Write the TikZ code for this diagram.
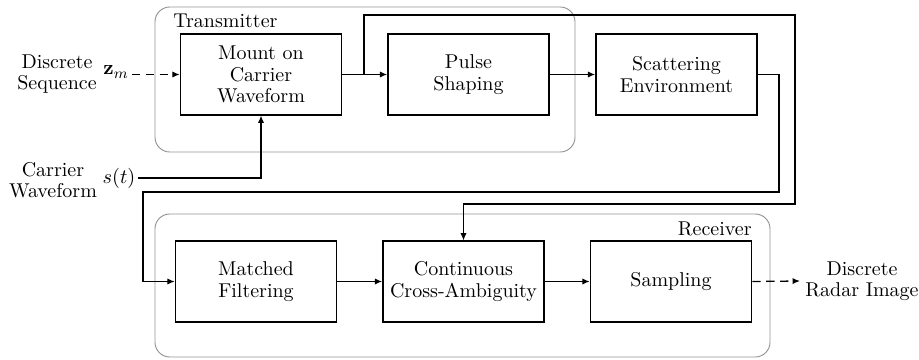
\documentclass[tikz,border=0pt]{standalone}
\usetikzlibrary{arrows.meta}
\begin{document}
\begin{tikzpicture}[x=0.54pt,y=-0.54pt,
  every node/.style={font=\fontsize{10.8}{11.6}\selectfont},
  blockbox/.style={draw,line width=0.8pt,minimum width=87pt,minimum height=43.5pt,align=center,inner sep=0pt},
  groupbox/.style={draw=gray!85,line width=0.5pt,rounded corners=8pt},
  conn/.style={line width=0.7pt,-{Latex[length=4pt,width=3.4pt]}},
  dconn/.style={conn,dash pattern=on 4.5pt off 3pt},
  lbl/.style={align=center,inner sep=0pt}]
\useasboundingbox (0,0) rectangle (919,360);
% containers
\draw[groupbox] (155,7) rectangle (575,152);
\draw[groupbox] (155,214) rectangle (770,357);
\node[anchor=west,inner sep=0pt] (tx) at (173,21) {Transmitter};
\node[anchor=east,inner sep=0pt] (rx) at (752,229) {Receiver};
% blocks
\node[blockbox] (mount) at (261,74.5) {Mount on\\Carrier\\Waveform};
\node[blockbox] (pulse) at (468.5,74.5) {Pulse\\Shaping};
\node[blockbox] (scat) at (676.5,74.5) {Scattering\\Environment};
\node[blockbox] (mf) at (256,281.5) {Matched\\Filtering};
\node[blockbox] (cca) at (463.5,281.5) {Continuous\\Cross-Ambiguity};
\node[blockbox] (samp) at (671,281.5) {Sampling};
% inputs / outputs
\node[lbl] (ds) at (57,74) {Discrete\\Sequence};
\node[inner sep=1.5pt] (zm) at (116,72) {$\mathbf{z}_m$};
\node[lbl] (cw) at (53,180) {Carrier\\Waveform};
\node[inner sep=1.5pt] (st) at (119,178) {$s(t)$};
\node[lbl] (dri) at (862,281) {Discrete\\Radar Image};
\coordinate (drin) at (800,281);
% connectors
\draw[dconn] (zm.east |- mount.west) -- (mount.west);
\draw[conn] (st.east) -| (mount.south);
\draw[conn] (mount.east) -- (pulse.west);
\draw[conn] (pulse.east) -- (scat.west);
\coordinate (j) at (364,74.5);
\coordinate (t1) at (364,15);
\coordinate (t2) at (795,15);
\coordinate (t3) at (795,204);
\coordinate (t4) at (463.5,204);
\draw[conn] (j) -- (t1) -- (t2) -- (t3) -- (t4) -- (cca.north);
\coordinate (s1) at (779,74.5);
\coordinate (s2) at (779,192);
\coordinate (s3) at (143,192);
\coordinate (s4) at (143,281.5);
\draw[conn] (scat.east) -- (s1) -- (s2) -- (s3) -- (s4) -- (mf.west);
\draw[conn] (mf.east) -- (cca.west);
\draw[conn] (cca.east) -- (samp.west);
\draw[dconn] (samp.east) -- (drin);
\end{tikzpicture}
\end{document}
